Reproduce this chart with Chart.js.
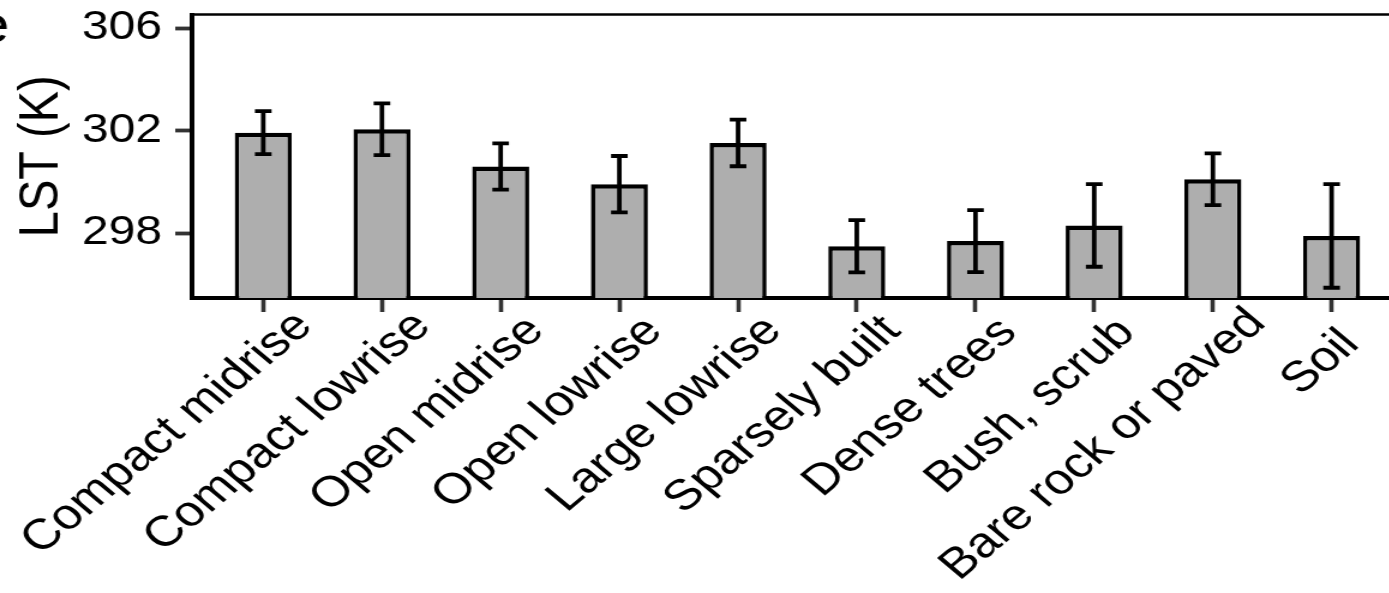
<!DOCTYPE html>
<html>
<head>
<meta charset="utf-8">
<script src="https://cdn.jsdelivr.net/npm/chart.js@4.4.1/dist/chart.umd.min.js"></script>
<style>
  html, body { margin: 0; padding: 0; background: #fff; overflow: hidden; }
  /* the source figure is stretched sideways, so the whole chart is scaled on x */
  #chart { display: block; width: 1180px; height: 593px; transform: scaleX(1.2); transform-origin: 0 0; }
</style>
</head>
<body>
<canvas id="chart" width="1180" height="593"></canvas>
<script>
const categories = ['Compact midrise', 'Compact lowrise', 'Open midrise', 'Open lowrise', 'Large lowrise',
  'Sparsely built', 'Dense trees', 'Bush, scrub', 'Bare rock or paved', 'Soil'];
const lstMean = [301.93, 302.06, 300.61, 299.92, 301.53, 297.50, 297.70, 298.31, 300.11, 297.90];
const lstSd = [0.84, 1.01, 0.90, 1.10, 0.91, 1.02, 1.21, 1.61, 1.01, 2.02];
const yTicks = [298, 302, 306];
const yMin = 295.48;
const yMax = 306.54;

const FONT = "'Liberation Sans', Arial, Helvetica, sans-serif";

// mean +/- sd whiskers
const errorBars = {
  id: 'errorBars',
  afterDatasetsDraw(chart) {
    const { ctx, scales: { x, y } } = chart;
    const half = (x.getPixelForValue(1) - x.getPixelForValue(0)) * 0.07;
    ctx.save();
    ctx.strokeStyle = '#000';
    ctx.lineWidth = 3.8;
    lstMean.forEach((m, i) => {
      const px = x.getPixelForValue(i);
      const top = y.getPixelForValue(m + lstSd[i]);
      const bot = y.getPixelForValue(m - lstSd[i]);
      ctx.beginPath();
      ctx.moveTo(px, top); ctx.lineTo(px, bot);
      ctx.moveTo(px - half, top); ctx.lineTo(px + half, top);
      ctx.moveTo(px - half, bot); ctx.lineTo(px + half, bot);
      ctx.stroke();
    });
    ctx.restore();
  }
};

// 45 degree category labels, justified like the ggplot original (hjust ~0.9)
const slantLabels = {
  id: 'slantLabels',
  afterDraw(chart) {
    const { ctx, chartArea, scales: { x } } = chart;
    const k = Math.SQRT1_2;
    ctx.save();
    ctx.fillStyle = '#000';
    ctx.font = '43px ' + FONT;
    ctx.textAlign = 'right';
    ctx.textBaseline = 'alphabetic';
    categories.forEach((label, i) => {
      const w = ctx.measureText(label).width;
      const along = -23.7 + 0.102 * w;
      const across = 51;
      const bx = x.getPixelForValue(i) + k * (along + across);
      const by = chartArea.bottom + k * (across - along);
      ctx.save();
      ctx.translate(bx, by);
      ctx.rotate(-Math.PI / 4);
      ctx.fillText(label, 0, 0);
      ctx.restore();
    });
    ctx.restore();
  }
};

// panel border on top/right and the clipped panel tag
const frame = {
  id: 'frame',
  afterDraw(chart) {
    const { ctx, chartArea } = chart;
    ctx.save();
    ctx.strokeStyle = '#000';
    ctx.lineWidth = 2.7;
    ctx.beginPath();
    ctx.moveTo(chartArea.left, chartArea.top);
    ctx.lineTo(chartArea.right, chartArea.top);
    ctx.lineTo(chartArea.right, chartArea.bottom);
    ctx.stroke();
    ctx.fillStyle = '#000';
    ctx.font = '52px ' + FONT;
    ctx.textAlign = 'right';
    ctx.textBaseline = 'alphabetic';
    ctx.fillText('e', 8, 42);
    ctx.restore();
  }
};

const axisBorder = { display: true, color: '#000', width: 4 };

new Chart(document.getElementById('chart'), {
  type: 'bar',
  data: {
    datasets: [{
      data: lstMean.map((v, i) => ({ x: i, y: v })),
      backgroundColor: '#AEAEAE',
      borderColor: '#000',
      borderWidth: { top: 4.5, left: 3.6, right: 3.6, bottom: 0 },
      barPercentage: 0.48,
      categoryPercentage: 1
    }]
  },
  options: {
    responsive: false,
    animation: false,
    devicePixelRatio: 1,
    layout: { padding: { left: 0, right: 11, top: 14.5, bottom: 0 } },
    plugins: { legend: { display: false }, tooltip: { enabled: false } },
    scales: {
      x: {
        type: 'linear',
        offset: false,
        min: -0.6,
        max: 9.6,
        afterBuildTicks: s => { s.ticks = categories.map((_, i) => ({ value: i })); },
        afterFit: s => { s.height = 295; s.paddingLeft = 0; s.paddingRight = 0; },
        grid: { drawOnChartArea: false, drawTicks: true, tickLength: 14, tickWidth: 3.6, tickColor: '#333', offset: false },
        border: axisBorder,
        ticks: { display: false, autoSkip: false }
      },
      y: {
        min: yMin,
        max: yMax,
        afterBuildTicks: s => { s.ticks = yTicks.map(v => ({ value: v })); },
        afterFit: s => { s.width = 160; s.paddingTop = 0; s.paddingBottom = 0; },
        grid: { drawOnChartArea: false, drawTicks: true, tickLength: 14, tickWidth: 3.8, tickColor: '#333' },
        border: axisBorder,
        ticks: {
          padding: 11,
          color: '#000',
          font: { family: FONT, size: 40 },
          callback: v => String(v)
        },
        title: {
          display: true,
          text: 'LST (K)',
          color: '#000',
          font: { family: FONT, size: 47 },
          padding: { top: 6.4, bottom: 0 }
        }
      }
    }
  },
  plugins: [errorBars, slantLabels, frame]
});
</script>
</body>
</html>
